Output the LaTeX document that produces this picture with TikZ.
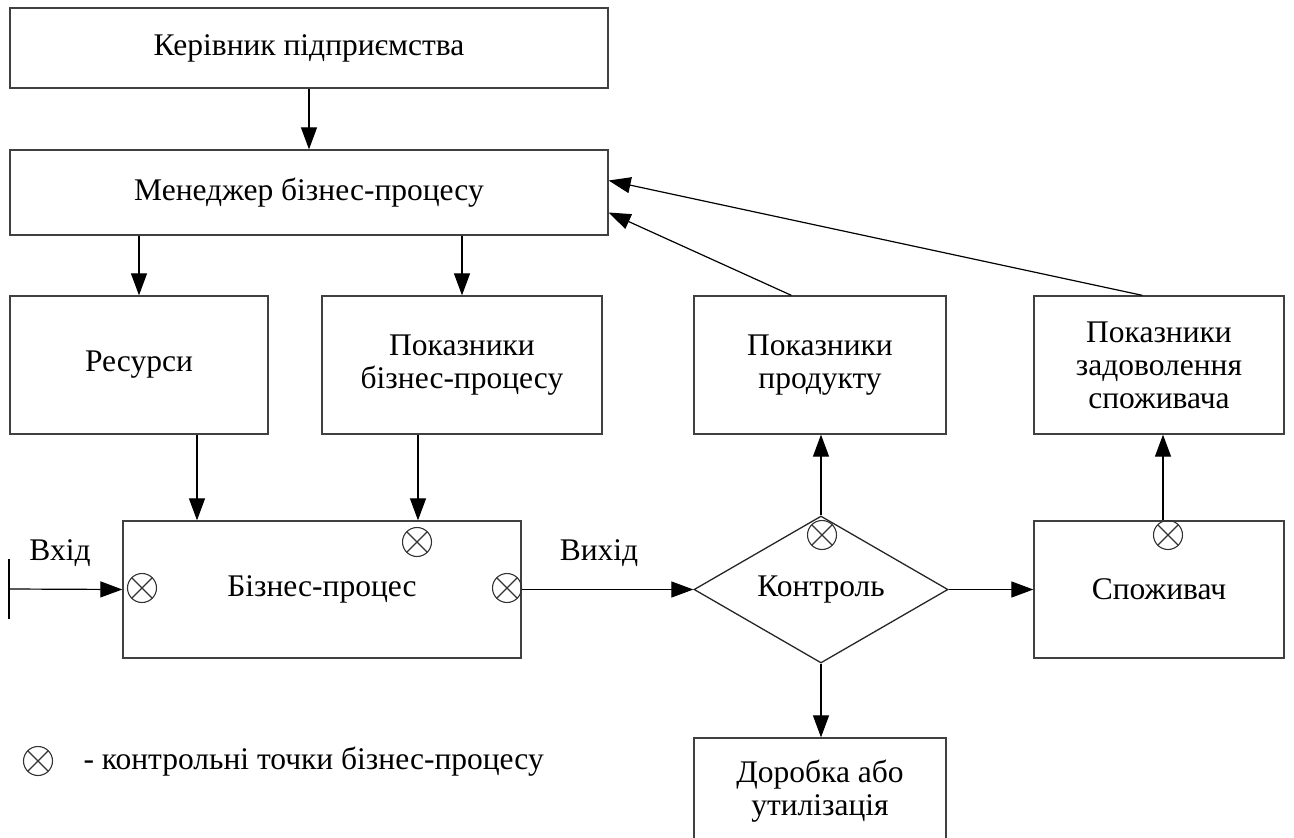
\documentclass[tikz,border=0pt]{standalone}
\usepackage{fontspec}
\setmainfont{Liberation Serif}
\usetikzlibrary{arrows.meta,shapes.geometric}
\begin{document}
\begin{tikzpicture}[x=1pt,y=-1pt,
  every node/.style={font=\fontsize{31.5}{33}\selectfont},
  box/.style={draw=black!75, line width=1.3pt, inner sep=0pt, align=center},
  arr/.style={line width=1.2pt, -{Triangle[length=22pt,width=16pt]}},
  ln/.style={line width=1.2pt},
  cp/.style={circle, draw=black!80, line width=1.1pt, minimum size=29pt, inner sep=0pt,
    path picture={\draw[line width=1.1pt,black!80] (path picture bounding box.north east) -- (path picture bounding box.south west)
      (path picture bounding box.north west) -- (path picture bounding box.south east);}}]
\useasboundingbox (0,0) rectangle (1294,838);
\node[box, minimum width=598pt, minimum height=80pt] (ker) at (309,48) {Керівник підприємства};
\node[box, minimum width=598pt, minimum height=85pt] (mgr) at (309,192.5) {Менеджер бізнес-процесу};
\node[box, minimum width=258pt, minimum height=138pt] (res) at (139,365) {Ресурси};
\node[box, minimum width=280pt, minimum height=138pt] (pbp) at (462,365) {Показники\\бізнес-процесу};
\node[box, minimum width=252pt, minimum height=138pt] (pp) at (820,365) {Показники\\продукту};
\node[box, minimum width=250pt, minimum height=138pt] (pz) at (1159,365) {Показники\\задоволення\\споживача};
\node[box, minimum width=398pt, minimum height=137pt] (bp) at (322,589.5) {Бізнес-процес};
\node[diamond, aspect=1.73, draw=black!85, line width=1.3pt, inner sep=0pt, minimum width=254pt, minimum height=147pt] (ctl) at (821,589.5) {Контроль};
\node[box, minimum width=250pt, minimum height=137pt] (sp) at (1159,589.5) {Споживач};
\node[box, minimum width=252pt, minimum height=107pt] (dor) at (820,791.5) {Доробка або\\утилізація};

\node[cp] (c1) at (142,588) {};
\node[cp] (c2) at (417,542) {};
\node[cp] (c3) at (507,588) {};
\node[cp] (c4) at (822,535) {};
\node[cp] (c5) at (1168,535) {};
\node[cp] (c6) at (38,761) {};
\node[anchor=west] (leg) at (80,762) {- контрольні точки бізнес-процесу};

\coordinate (vt) at (9,559);
\coordinate (vb) at (9,619);
\coordinate (vin) at (9,589);
\node (vxd) at (60,553) {Вхід};
\node (vyx) at (599,553) {Вихід};

\draw[arr] (ker.south) -- (mgr.north);
\draw[arr] (mgr.south -| res.north) -- (res.north);
\draw[arr] (mgr.south -| pbp.north) -- (pbp.north);
\draw[arr] (res.south -| 197,0) -- (bp.north -| 197,0);
\draw[arr] (pbp.south -| 418,0) -- (bp.north -| 418,0);
\draw[ln] (vt) -- (vb);
\draw[arr] (vin) -- (bp.west);
\draw[arr] (bp.east) -- (ctl.west);
\draw[arr] (ctl.north) -- (ctl.north |- pp.south);
\draw[arr] (ctl.east) -- (sp.west);
\draw[arr] (ctl.south) -- (ctl.south |- dor.north);
\draw[arr] (sp.north -| 1163,0) -- (pz.south -| 1163,0);
\draw[arr] ([xshift=98pt]pp.north west) -- ([yshift=-20pt]mgr.east);
\draw[arr] ([xshift=109pt]pz.north west) -- ([yshift=12pt]mgr.east);
\end{tikzpicture}
\end{document}
